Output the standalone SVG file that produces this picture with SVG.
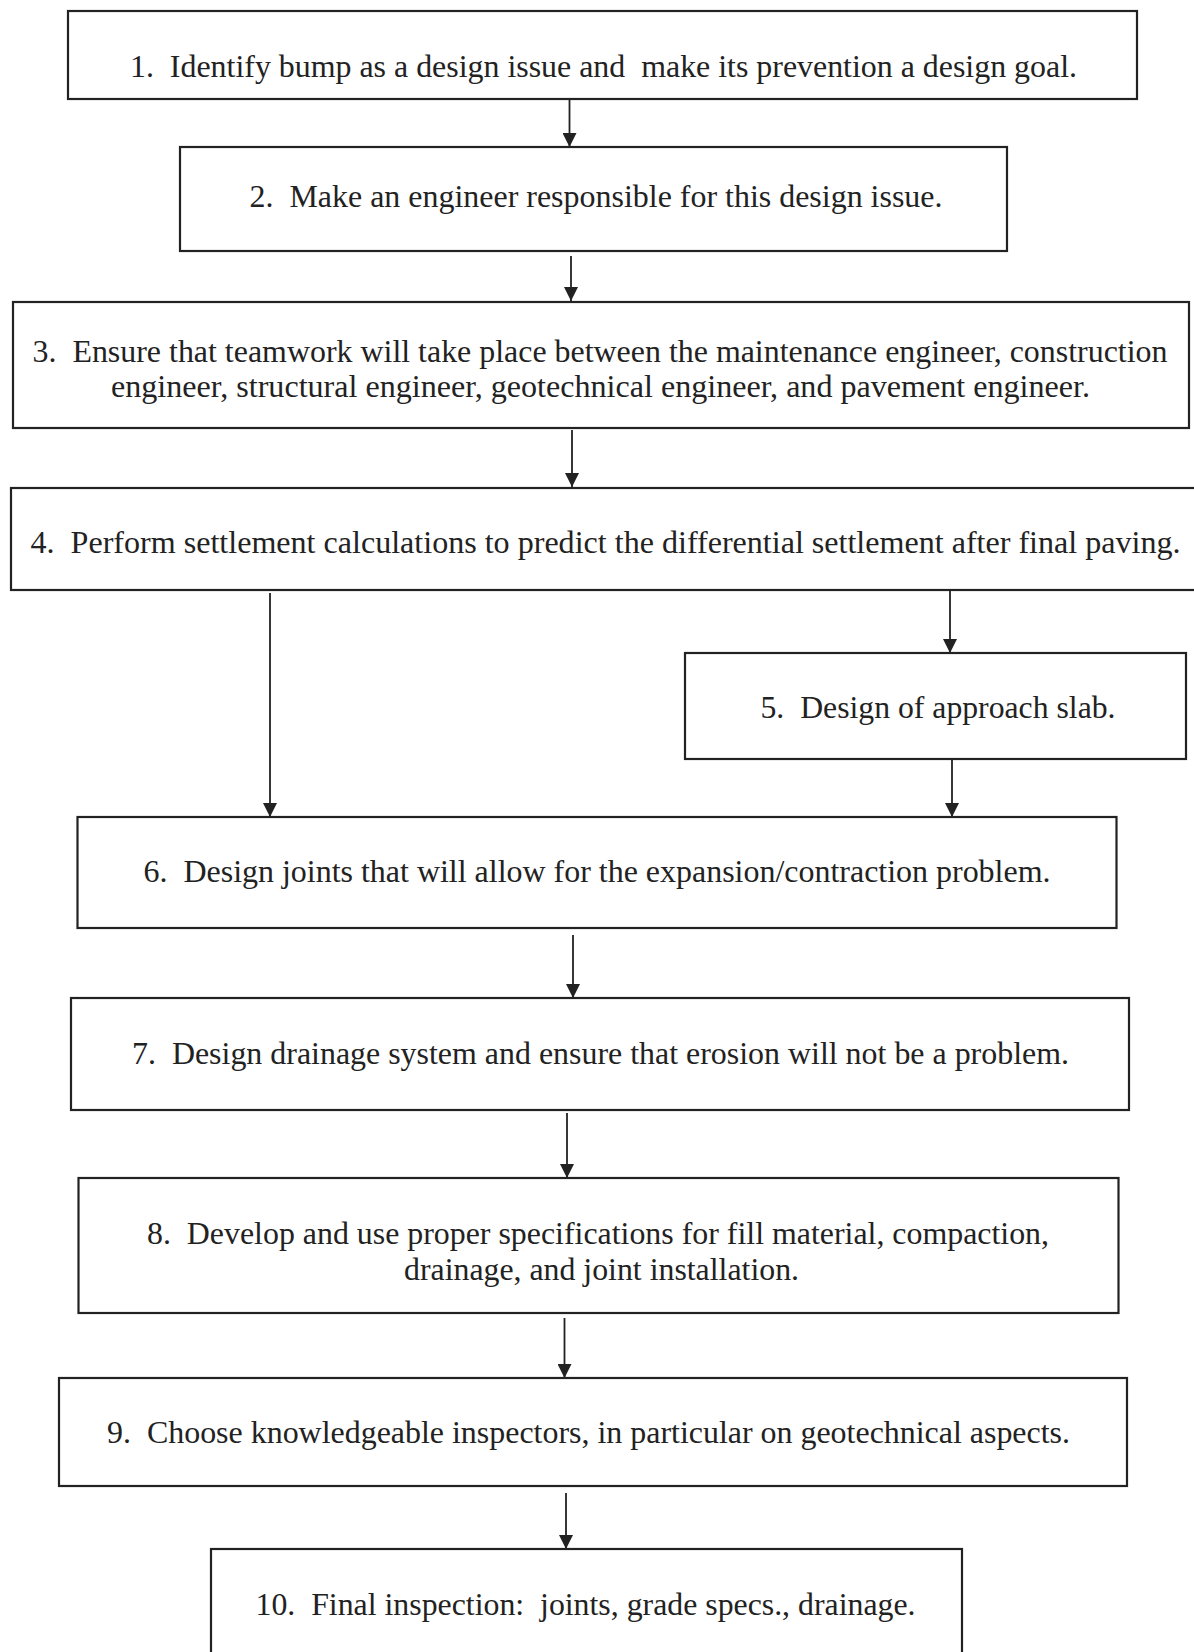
<svg xmlns="http://www.w3.org/2000/svg" width="1194" height="1652" viewBox="0 0 1194 1652">
  <style>
    .box { fill: #ffffff; stroke: #222222; stroke-width: 2.2; }
    .lbl { font-family: "Liberation Serif", "Times New Roman", serif; font-size: 32px; fill: #222222; white-space: pre; }
    .conn { stroke: #222222; stroke-width: 1.8; fill: none; marker-end: url(#arrow); }
  </style>
  <defs>
    <marker id="arrow" markerUnits="userSpaceOnUse" viewBox="0 0 14 14" refX="14" refY="7" markerWidth="14" markerHeight="14" orient="auto">
      <path d="M0,0 L14,7 L0,14 z" fill="#222222"/>
    </marker>
  </defs>
  <rect x="0" y="0" width="1194" height="1652" fill="#ffffff"/>

  <g id="connectors">
    <line class="conn" x1="569.5" y1="99" x2="569.5" y2="147"/>
    <line class="conn" x1="571" y1="256" x2="571" y2="301"/>
    <line class="conn" x1="572" y1="430" x2="572" y2="487"/>
    <line class="conn" x1="270" y1="593" x2="270" y2="817"/>
    <line class="conn" x1="950" y1="590" x2="950" y2="653"/>
    <line class="conn" x1="952" y1="759" x2="952" y2="817"/>
    <line class="conn" x1="573" y1="935" x2="573" y2="998"/>
    <line class="conn" x1="567" y1="1113" x2="567" y2="1178"/>
    <line class="conn" x1="564.5" y1="1318" x2="564.5" y2="1378"/>
    <line class="conn" x1="566" y1="1493" x2="566" y2="1549"/>
  </g>

  <g id="node1">
    <rect class="box" x="68" y="11" width="1069" height="88"/>
    <text class="lbl" x="130" y="77" textLength="947" lengthAdjust="spacingAndGlyphs">1.  Identify bump as a design issue and  make its prevention a design goal.</text>
  </g>
  <g id="node2">
    <rect class="box" x="180" y="147" width="827" height="104"/>
    <text class="lbl" x="249.5" y="207" textLength="693" lengthAdjust="spacingAndGlyphs">2.  Make an engineer responsible for this design issue.</text>
  </g>
  <g id="node3">
    <rect class="box" x="13" y="302" width="1176" height="126"/>
    <text class="lbl" x="32.5" y="362" textLength="1135" lengthAdjust="spacingAndGlyphs">3.  Ensure that teamwork will take place between the maintenance engineer, construction</text>
    <text class="lbl" x="111" y="397" textLength="979" lengthAdjust="spacingAndGlyphs">engineer, structural engineer, geotechnical engineer, and pavement engineer.</text>
  </g>
  <g id="node4">
    <rect class="box" x="11" y="488" width="1195" height="102"/>
    <text class="lbl" x="30.5" y="553" textLength="1150" lengthAdjust="spacingAndGlyphs">4.  Perform settlement calculations to predict the differential settlement after final paving.</text>
  </g>
  <g id="node5">
    <rect class="box" x="685" y="653" width="501" height="106"/>
    <text class="lbl" x="760.5" y="718" textLength="355" lengthAdjust="spacingAndGlyphs">5.  Design of approach slab.</text>
  </g>
  <g id="node6">
    <rect class="box" x="77.5" y="817" width="1039" height="111"/>
    <text class="lbl" x="143.5" y="882" textLength="907" lengthAdjust="spacingAndGlyphs">6.  Design joints that will allow for the expansion/contraction problem.</text>
  </g>
  <g id="node7">
    <rect class="box" x="71" y="998" width="1058" height="112"/>
    <text class="lbl" x="132" y="1064" textLength="937" lengthAdjust="spacingAndGlyphs">7.  Design drainage system and ensure that erosion will not be a problem.</text>
  </g>
  <g id="node8">
    <rect class="box" x="78.5" y="1178" width="1040" height="135"/>
    <text class="lbl" x="147" y="1244" textLength="902" lengthAdjust="spacingAndGlyphs">8.  Develop and use proper specifications for fill material, compaction,</text>
    <text class="lbl" x="404" y="1280" textLength="395" lengthAdjust="spacingAndGlyphs">drainage, and joint installation.</text>
  </g>
  <g id="node9">
    <rect class="box" x="59" y="1378" width="1068" height="108"/>
    <text class="lbl" x="107" y="1443" textLength="963" lengthAdjust="spacingAndGlyphs">9.  Choose knowledgeable inspectors, in particular on geotechnical aspects.</text>
  </g>
  <g id="node10">
    <rect class="box" x="211" y="1549" width="751" height="120"/>
    <text class="lbl" x="255.5" y="1615" textLength="660" lengthAdjust="spacingAndGlyphs">10.  Final inspection:  joints, grade specs., drainage.</text>
  </g>
</svg>
